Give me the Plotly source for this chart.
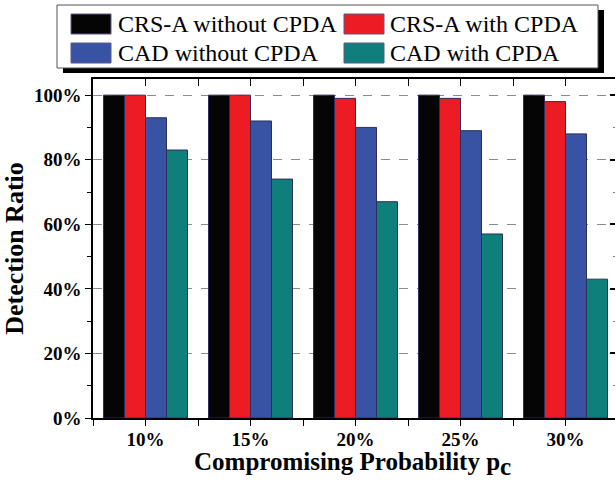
import plotly.graph_objects as go

# Compromising probability levels (x categories)
categories = ["10%", "15%", "20%", "25%", "30%"]

# Detection ratio (%) for each scheme
crs_a_without = [100, 100, 100, 100, 100]
crs_a_with = [100, 100, 99, 99, 98]
cad_without = [93, 92, 90, 89, 88]
cad_with = [83, 74, 67, 57, 43]

series_names = ["CRS-A without CPDA", "CRS-A with CPDA", "CAD without CPDA", "CAD with CPDA"]
series_values = [crs_a_without, crs_a_with, cad_without, cad_with]
series_colors = ["#050505", "#ED1C24", "#3953A4", "#0E7F7B"]

y_ticks = [0, 20, 40, 60, 80, 100]
y_tick_labels = ["0%", "20%", "40%", "60%", "80%", "100%"]

x_title = 'Compromising Probability p<sub><span style="font-size:25px">c</span></sub>'
y_title = "Detection Ratio"

W, H = 615, 482
ML, MR, MT, MB = 93, 0, 79, 64
PW, PH = W - ML - MR, H - MT - MB

FONT = "Liberation Serif"
x_pos = list(range(len(categories)))
x_range = [-0.5, -0.5 + PW / 105.0]
y_range = [0, 105]

fig = go.Figure()
for name, vals, col in zip(series_names, series_values, series_colors):
    fig.add_trace(go.Bar(
        x=x_pos, y=vals, name=name, showlegend=False,
        marker=dict(color=col, line=dict(color="#2E2E5C", width=1)),
    ))

# helper trace so the top / right tick axes get drawn
fig.add_trace(go.Scatter(x=x_pos, y=[None] * len(x_pos), xaxis="x2", yaxis="y2",
                         mode="markers", showlegend=False, hoverinfo="skip"))


def bold_font(size):
    return dict(family=FONT, size=size, color="black", weight="bold")


fig.update_layout(
    width=W, height=H,
    margin=dict(l=ML, r=MR, t=MT, b=MB, autoexpand=False),
    paper_bgcolor="white", plot_bgcolor="white",
    barmode="group", bargap=0.2, bargroupgap=0,
    xaxis=dict(
        range=x_range, tickmode="array", tickvals=x_pos, ticktext=categories,
        ticks="outside", ticklen=6, tickwidth=1.2, tickcolor="black",
        minor=dict(tickmode="array", tickvals=[p - 0.5 for p in x_pos],
                   ticks="outside", ticklen=6, tickwidth=1.2, tickcolor="black", showgrid=False),
        showline=True, linecolor="black", linewidth=1.5, mirror=True,
        showgrid=False, zeroline=False, tickfont=bold_font(19), ticklabelstandoff=-3,
    ),
    yaxis=dict(
        range=y_range, tickmode="array", tickvals=y_ticks, ticktext=y_tick_labels,
        ticks="outside", ticklen=6, tickwidth=1.2, tickcolor="black",
        minor=dict(tickmode="array", tickvals=[t + 10 for t in y_ticks[:-1]],
                   ticks="outside", ticklen=4, tickwidth=1.2, tickcolor="black", showgrid=False),
        showline=True, linecolor="black", linewidth=1.5,
        showgrid=True, gridcolor="#8C8C8C", griddash="dash", gridwidth=1.2,
        zeroline=False, tickfont=bold_font(19),
        title=dict(text=y_title, standoff=5, font=bold_font(26)),
    ),
    xaxis2=dict(
        overlaying="x", side="top", anchor="y2", range=x_range,
        tickmode="array", tickvals=x_pos, showticklabels=False,
        ticks="inside", ticklen=7, tickwidth=1.2, tickcolor="black",
        minor=dict(tickmode="array", tickvals=[p + 0.5 for p in x_pos[:-1]],
                   ticks="inside", ticklen=7, tickwidth=1.2, tickcolor="black"),
        showline=False, showgrid=False, zeroline=False,
    ),
    yaxis2=dict(
        overlaying="y", side="right", anchor="x2", range=y_range,
        tickmode="array", tickvals=y_ticks, showticklabels=False,
        ticks="inside", ticklen=5, tickwidth=1.5, tickcolor="black",
        minor=dict(tickmode="array", tickvals=[t + 10 for t in y_ticks[:-1]],
                   ticks="inside", ticklen=2, tickwidth=1.2, tickcolor="#777777"),
        showline=False, showgrid=False, zeroline=False,
    ),
)


# legend box and x title laid out in pixel units, converted to paper coordinates
def px(x):
    return (x - ML) / PW


def py(y):
    return (H - MB - y) / PH


shapes = [
    dict(type="rect", xref="paper", yref="paper", x0=px(63), x1=px(604), y0=py(73), y1=py(10),
         fillcolor="black", line=dict(width=0), layer="above"),
    dict(type="rect", xref="paper", yref="paper", x0=px(57), x1=px(598), y0=py(68), y1=py(5),
         fillcolor="white", line=dict(color="#555555", width=1), layer="above"),
]
annotations = [
    dict(text=x_title, xref="paper", yref="paper", x=px(352), y=py(464),
         xanchor="center", yanchor="middle", showarrow=False, font=bold_font(25)),
]
sw_x = [71, 344]
txt_x = [116, 388]
row_y = [24, 53]
for i, (name, col) in enumerate(zip(series_names, series_colors)):
    r, c = divmod(i, 2)
    shapes.append(dict(type="rect", xref="paper", yref="paper",
                       x0=px(sw_x[c]), x1=px(sw_x[c] + 40),
                       y0=py(row_y[r] + 10), y1=py(row_y[r] - 10),
                       fillcolor=col, line=dict(color="#5A5A8A", width=1), layer="above"))
    annotations.append(dict(text=name, xref="paper", yref="paper",
                            x=px(txt_x[c]), y=py(row_y[r]), xanchor="left", yanchor="middle",
                            showarrow=False, font=dict(family=FONT, size=24, color="black")))

fig.update_layout(shapes=shapes, annotations=annotations)

fig.write_html("out.html")
